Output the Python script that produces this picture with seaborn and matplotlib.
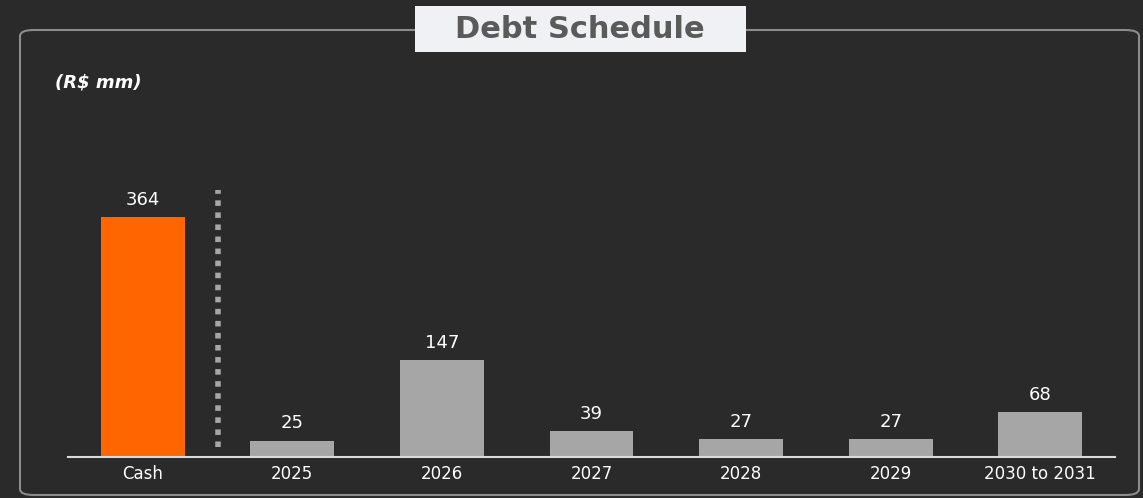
import pandas as pd
import numpy as np
import matplotlib.pyplot as plt
import seaborn as sns
from matplotlib.patches import FancyBboxPatch, Rectangle

# Chart data
categories = ["Cash", "2025", "2026", "2027", "2028", "2029", "2030 to 2031"]
values = [364, 25, 147, 39, 27, 27, 68]
bar_kind = ["cash", "debt", "debt", "debt", "debt", "debt", "debt"]

df = pd.DataFrame({"period": categories, "amount": values, "kind": bar_kind})

bg = "#2a2a2a"
sns.set_theme(style="white")
plt.rcParams["font.family"] = ["DejaVu Sans"]

fig = plt.figure(figsize=(11.43, 4.98), dpi=100, facecolor=bg)

# Rounded outer frame
frame = FancyBboxPatch((20 / 1143, 3 / 498), 1119 / 1143, 465 / 498,
                       boxstyle="round,pad=0,rounding_size=0.012",
                       transform=fig.transFigure, facecolor="none",
                       edgecolor="#8c8c8c", linewidth=1.5)
fig.patches.append(frame)

ax = fig.add_axes([68 / 1143, 41 / 498, 1047 / 1143, 356 / 498])
ax.set_facecolor(bg)
ax.patch.set_alpha(0)

sns.barplot(data=df, x="period", y="amount", hue="kind",
            palette={"cash": "#ff6600", "debt": "#a6a6a6"},
            width=0.56, dodge=False, legend=False, saturation=1,
            linewidth=0, ax=ax)

for cont in ax.containers:
    ax.bar_label(cont, padding=6, color="white", fontsize=13)

ax.set_xlim(-0.5, 6.5)
ax.set_ylim(0, 540)
ax.set_xlabel("")
ax.set_ylabel("")
ax.set_yticks([])
ax.tick_params(axis="x", colors="white", labelsize=12, length=0, pad=6)
for side in ["left", "right", "top"]:
    ax.spines[side].set_visible(False)
ax.spines["bottom"].set_color("#d9d9d9")
ax.spines["bottom"].set_linewidth(1.5)

# Dotted separator between cash and debt maturities
ax.axvline(0.5, ymin=0.028, ymax=0.75, color="#a6a6a6", linewidth=4,
           linestyle=(0, (1.0, 1.17)))

# Units note
fig.text(55 / 1143, 1 - 83 / 498, "(R$ mm)", color="white", fontsize=13,
         fontweight="bold", fontstyle="italic", va="center", ha="left")

# Title box
fig.patches.append(Rectangle((415 / 1143, 1 - 52 / 498), 331 / 1143, 46 / 498,
                             transform=fig.transFigure, facecolor="#f0f1f5",
                             edgecolor="none", zorder=3))
fig.text(580 / 1143, 1 - 29 / 498, "Debt Schedule", color="#5a5a5a",
         fontsize=22, fontweight="bold", ha="center", va="center", zorder=4)

fig.savefig("out.png", dpi=100, facecolor=bg)
